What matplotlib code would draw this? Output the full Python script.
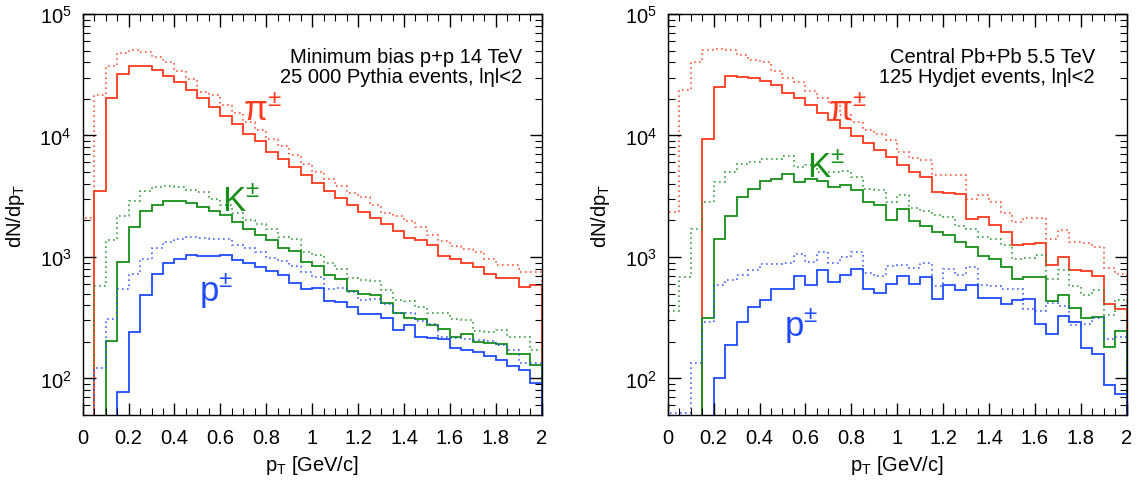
import numpy as np
import matplotlib
matplotlib.use("Agg")
import matplotlib.pyplot as plt
from matplotlib.ticker import MultipleLocator, LogLocator

plt.rcParams['font.family'] = ['Liberation Sans', 'DejaVu Sans']
plt.rcParams['mathtext.fontset'] = 'custom'
plt.rcParams['mathtext.rm'] = 'Liberation Sans'
plt.rcParams['mathtext.it'] = 'Liberation Sans:italic'
plt.rcParams['mathtext.default'] = 'regular'

# 40 bins of 0.05 GeV/c from 0 to 2
edges = np.linspace(0, 2, 41)

# p+p 14 TeV (Pythia): solid and dotted histograms
pp_pi = [1, 3470, 20300, 31900, 37100, 37100, 34400, 31100, 27800, 23900,
         20300, 17000, 14400, 12500, 10300, 8930, 7300, 6350, 5460, 4690,
         4050, 3470, 3050, 2660, 2340, 2090, 1880, 1630, 1420, 1380,
         1260, 1020, 970, 900, 830, 730, 672, 672, 567, 585]
pp_pi_dot = [2090, 21600, 37600, 47800, 50900, 48400, 44000, 40100, 34200, 28900,
             23000, 21600, 17700, 15400, 13000, 11000, 9280, 8170, 6940, 5850,
             5000, 4350, 3840, 3380, 3110, 2690, 2310, 2170, 1990, 1770,
             1530, 1345, 1230, 1170, 1100, 957, 865, 865, 753, 753]
pp_k = [1, 1, 203, 910, 1770, 2390, 2690, 2870, 2870, 2800,
        2580, 2390, 2200, 1940, 1710, 1530, 1370, 1190, 1110, 910,
        843, 716, 655, 522, 500, 484, 421, 349, 315, 307,
        278, 254, 220, 234, 198, 194, 192, 160, 160, 130]
pp_k_dot = [1, 578, 1370, 2170, 2890, 3470, 3760, 3840, 3760, 3530,
            3420, 2980, 2660, 2310, 2000, 1880, 1710, 1460, 1415, 1100,
            1045, 900, 802, 672, 643, 630, 532, 440, 432, 388,
            349, 343, 307, 300, 245, 242, 249, 220, 220, 171]
pp_p = [1, 1, 1, 77, 242, 484, 730, 900, 970, 1045,
        1020, 1020, 1030, 940, 900, 828, 762, 707, 615, 542,
        556, 432, 428, 388, 342, 337, 315, 250, 274, 220,
        216, 211, 177, 170, 166, 153, 142, 127, 117, 91]
pp_p_dot = [1, 121, 307, 542, 730, 957, 1190, 1330, 1400, 1450,
            1440, 1415, 1400, 1260, 1190, 1100, 981, 921, 843, 753,
            685, 542, 556, 516, 440, 455, 413, 349, 343, 296,
            283, 220, 214, 211, 207, 203, 188, 170, 135, 133]

# central Pb+Pb 5.5 TeV (Hydjet)
pb_pi = [1, 1, 1, 9390, 25000, 30700, 30400, 29600, 28300, 26100,
         22400, 20300, 17700, 15400, 13300, 11500, 9880, 8700, 7530, 6640,
         5670, 5000, 4550, 3420, 3380, 3320, 2070, 2150, 1850, 1610,
         1250, 1270, 1310, 855, 1000, 777, 770, 698, 413, 371]
pb_pi_dot = [2340, 23700, 40600, 50600, 51600, 50900, 46000, 42100, 40600, 34200,
             29600, 27800, 23400, 20300, 18800, 14800, 12900, 11200, 10300, 9100,
             7300, 6510, 6230, 4750, 4750, 4690, 3020, 3250, 2830, 2310,
             1940, 2090, 2090, 1415, 1660, 1330, 1300, 1210, 812, 730]
pb_k = [1, 1, 1, 315, 1400, 2170, 3110, 3650, 4190, 4410,
        4780, 4130, 4350, 4190, 3760, 3880, 3530, 2830, 2660, 2000,
        2500, 1960, 1800, 1610, 1510, 1330, 1210, 1020, 957, 828,
        655, 685, 685, 432, 490, 381, 315, 321, 182, 245]
pb_k_dot = [358, 685, 1710, 2830, 4130, 5000, 5850, 6040, 6430, 6350,
            6760, 5490, 5670, 5000, 5000, 5060, 4550, 3650, 3530, 2830,
            3210, 2530, 2370, 2200, 2130, 1800, 1710, 1460, 1400, 1250,
            957, 978, 1030, 655, 777, 578, 490, 533, 336, 440]
pb_p = [1, 1, 1, 1, 101, 190, 292, 388, 440, 542,
        542, 698, 585, 777, 623, 707, 802, 549, 509, 604,
        698, 604, 685, 455, 585, 532, 590, 460, 460, 413,
        440, 448, 283, 234, 327, 289, 177, 160, 89, 74]
pb_p_dot = [52, 52, 133, 292, 593, 643, 707, 777, 882, 882,
            900, 1065, 910, 1100, 900, 1000, 1100, 743, 698, 843,
            855, 812, 900, 578, 792, 707, 828, 593, 578, 549,
            549, 376, 358, 421, 396, 278, 282, 315, 213, 218]

red = '#ff3a1e'
green = '#17901a'
blue = '#1f4cff'

panels = [
    ("Minimum bias p+p 14 TeV\n25 000 Pythia events, lηl<2", 0.957,
     [(pp_pi, pp_pi_dot, red), (pp_k, pp_k_dot, green), (pp_p, pp_p_dot, blue)],
     [(0.70, 13700), (0.605, 2450), (0.505, 440)]),
    ("Central Pb+Pb 5.5 TeV\n125 Hydjet events, lηl<2", 0.93,
     [(pb_pi, pb_pi_dot, red), (pb_k, pb_k_dot, green), (pb_p, pb_p_dot, blue)],
     [(0.70, 13700), (0.605, 4600), (0.505, 226)]),
]
names = [r'$\pi^{\pm}$', r'K$^{\pm}$', r'p$^{\pm}$']

fig = plt.figure(figsize=(11.4, 4.81), dpi=100)
lefts = [0.0725, 0.5857]
for (title, tx, series, lab_pos), left in zip(panels, lefts):
    ax = fig.add_axes([left, 0.1351, 0.4027, 0.8337])
    for (solid, dotted, c) in series:
        ax.stairs(dotted, edges, color=c, lw=1.2, linestyle=(0, (1, 2)), alpha=0.85)
        ax.stairs(solid, edges, color=c, lw=1.3)
    for (x, y), name, (_, _, c) in zip(lab_pos, names, series):
        ax.text(x, y, name, color=c, fontsize=25, ha='left', va='baseline')
    ax.text(tx, 0.918, title, transform=ax.transAxes, ha='right', va='top',
            fontsize=14.5, linespacing=1.1)
    ax.set_yscale('log')
    ax.set_xlim(0, 2)
    ax.set_ylim(50, 1e5)
    ax.xaxis.set_minor_locator(MultipleLocator(0.05))
    ax.yaxis.set_major_locator(LogLocator(base=10, numticks=10))
    ax.yaxis.set_minor_locator(LogLocator(base=10, subs=np.arange(2, 10), numticks=10))
    ax.set_xticks(np.arange(0, 2.01, 0.2))
    ax.set_xticklabels(['0', '0.2', '0.4', '0.6', '0.8', '1', '1.2', '1.4', '1.6', '1.8', '2'])
    ax.tick_params(which='both', direction='in', top=True, right=True, labelsize=14.5)
    ax.tick_params(which='major', length=9, width=1)
    ax.tick_params(which='minor', length=5, width=0.8)
    ax.tick_params(axis='x', pad=9)
    ax.tick_params(axis='y', pad=8)
    for s in ax.spines.values():
        s.set_linewidth(1.0)
    ax.set_xlabel(r'p$_\mathrm{T}$ [GeV/c]', fontsize=14.5, labelpad=5)
    ax.set_ylabel(r'dN/dp$_\mathrm{T}$', fontsize=14.5)
    ax.yaxis.set_label_coords(-0.122, 0.5)

fig.savefig('out.png', dpi=100)
